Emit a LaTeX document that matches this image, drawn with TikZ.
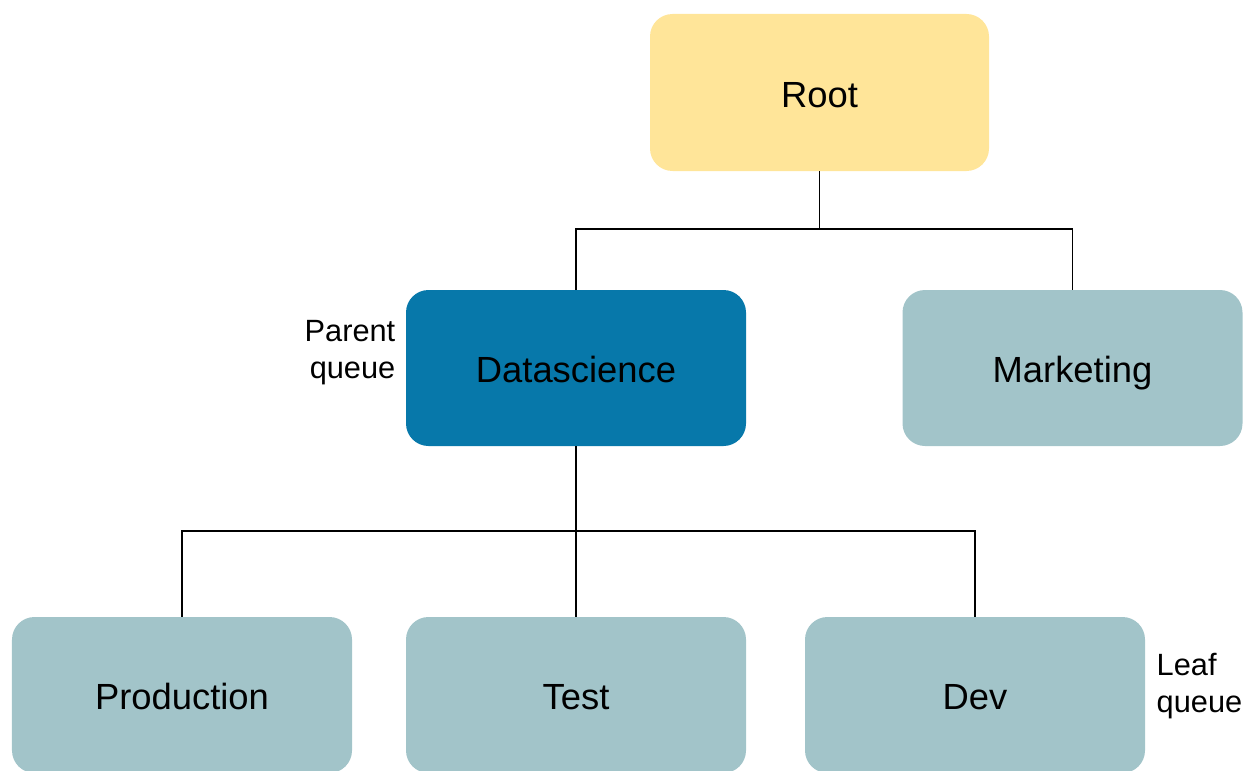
\documentclass[tikz,border=0pt]{standalone}
\usepackage{fontspec}
\setmainfont{Liberation Sans}
\usetikzlibrary{positioning}
\definecolor{rootyellow}{HTML}{FFE599}
\definecolor{parentblue}{HTML}{0778AA}
\definecolor{leafcyan}{HTML}{A2C4C9}
\tikzset{queue/.style={rectangle, rounded corners=0.45cm, minimum width=6.8cm, minimum height=3.12cm, inner sep=0pt, text height=17pt, text depth=0pt, font=\fontsize{20.7}{24}\selectfont},
  link/.style={line width=1.1pt, black},
  lbl/.style={font=\fontsize{17.5}{21}\selectfont, inner sep=0pt}}
\def\toprow{13.55}
\def\midrow{8.04}
\def\botrow{1.5}

\begin{document}
\begin{tikzpicture}
  \useasboundingbox (0,0) rectangle (24.88,15.4);

  \node[queue, fill=rootyellow, minimum width=6.78cm, minimum height=3.14cm] (root) at (16.39,\toprow) {Root};

  \node[queue, fill=parentblue] (ds) at (11.52,\midrow) {Datascience};
  \node[queue, fill=leafcyan] (mkt) at (21.45,\midrow) {Marketing};

  \node[queue, fill=leafcyan] (prod) at (3.64,\botrow) {Production};
  \node[queue, fill=leafcyan] (test) at (11.52,\botrow) {Test};
  \node[queue, fill=leafcyan] (dev) at (19.5,\botrow) {Dev};

  %%% Bus lines %%%
  \coordinate (bus1) at (0,10.82);
  \coordinate (bus2) at (0,4.78);

  \draw[link] (root.south) -- (root.south |- bus1) -| (ds.north);
  \draw[link] (root.south |- bus1) -| (mkt.north);

  \draw[link] (ds.south) -- (test.north);
  \foreach \leaf in {prod,dev}
  \draw[link] (ds.south |- bus2) -| (\leaf.north);

  %%% Labels %%%
  \node[lbl, anchor=east, align=right] (parent) at ([xshift=-0.2cm,yshift=0.3cm]ds.west) {Parent\\queue};
  \node[lbl, anchor=west, align=left] (leaf) at ([xshift=0.22cm,yshift=0.18cm]dev.east) {Leaf\\queue};
\end{tikzpicture}
\end{document}
